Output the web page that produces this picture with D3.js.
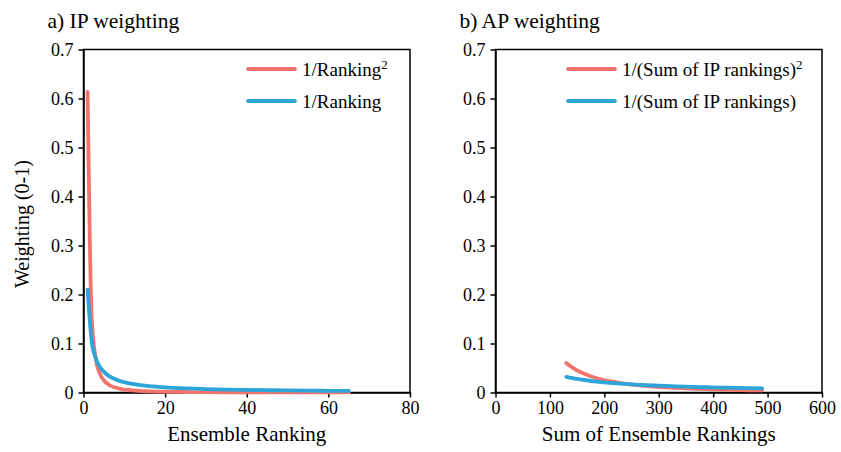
<!DOCTYPE html>
<html>
<head>
<meta charset="utf-8">
<script src="https://cdn.jsdelivr.net/npm/d3@7"></script>
<style>
  body { margin: 0; background: #fff; }
  text { font-family: "Liberation Serif", "Times New Roman", serif; fill: #000; }
  .axis path, .axis line { stroke: #000; stroke-width: 1.5px; }
  .axis text { font-size: 18px; font-family: "Liberation Serif", "Times New Roman", serif; }
</style>
</head>
<body>
<div id="chart"></div>
<script>
// panel a: ensemble ranking vs weight
var ranks = [1,2,3,4,5,6,7,8,9,10,11,12,13,14,15,16,17,18,19,20,25,30,35,40,45,50,55,60,65];
var ipSquared = [0.6136,0.1534,0.0682,0.0384,0.0245,0.0170,0.0125,0.0096,0.0076,0.0061,0.0051,0.0043,0.0036,0.0031,0.0027,0.0024,0.0021,0.0019,0.0017,0.0015,0.0010,0.0007,0.0005,0.0004,0.0003,0.00025,0.0002,0.00017,0.00015];
var ipLinear = [0.2101,0.1051,0.0700,0.0525,0.0420,0.0350,0.0300,0.0263,0.0233,0.0210,0.0191,0.0175,0.0162,0.0150,0.0140,0.0131,0.0124,0.0117,0.0111,0.0105,0.0084,0.0070,0.0060,0.0053,0.0047,0.0042,0.0038,0.0035,0.0032];

// panel b: sum of rankings vs weight
var sums = [130,150,170,190,210,230,250,270,290,310,330,350,370,390,410,430,450,470,490];
var apSquared = [0.0600,0.0451,0.0351,0.0281,0.0230,0.0192,0.0162,0.0139,0.0121,0.0106,0.0093,0.0083,0.0074,0.0067,0.0060,0.0055,0.0050,0.0046,0.0042];
var apLinear = [0.0320,0.0277,0.0245,0.0219,0.0198,0.0181,0.0166,0.0154,0.0143,0.0134,0.0126,0.0119,0.0112,0.0107,0.0101,0.0097,0.0092,0.0089,0.0085];

var yTicks = [0,0.1,0.2,0.3,0.4,0.5,0.6,0.7];
var xTicksA = [0,20,40,60,80];
var xTicksB = [0,100,200,300,400,500,600];

var red = "#F3746C", blue = "#2EA5D8";

var svg = d3.select("#chart").append("svg")
  .attr("width", 841).attr("height", 452);

var plotTop = 49.5, plotBottom = 392.5;

var y = d3.scaleLinear().domain([0, 0.7]).range([plotBottom, plotTop]);

function panel(left, right, xMax, xTicks, xs, s1, s2, title, xLabel, leg1, leg1sup, leg2, legX) {
  var x = d3.scaleLinear().domain([0, xMax]).range([left, right]);
  var g = svg.append("g");

  // frame
  g.append("rect")
    .attr("x", left).attr("y", plotTop)
    .attr("width", right - left).attr("height", plotBottom - plotTop)
    .attr("fill", "none").attr("stroke", "#000").attr("stroke-width", 1.5);

  g.append("g").attr("class", "axis")
    .attr("transform", "translate(0," + plotBottom + ")")
    .call(d3.axisBottom(x).tickValues(xTicks).tickSize(5).tickSizeOuter(0).tickPadding(4).tickFormat(d3.format("d")));

  g.append("g").attr("class", "axis")
    .attr("transform", "translate(" + left + ",0)")
    .call(d3.axisLeft(y).tickValues(yTicks).tickSize(5).tickSizeOuter(0).tickPadding(5).tickFormat(d3.format("~g")));

  var line = function (vals) {
    return d3.line()
      .x(function (d, i) { return x(xs[i]); })
      .y(function (d) { return y(d); })
      .curve(d3.curveMonotoneX)(vals);
  };

  g.append("path").attr("d", line(s1))
    .attr("fill", "none").attr("stroke", red).attr("stroke-width", 3.8).attr("stroke-linecap", "round");
  g.append("path").attr("d", line(s2))
    .attr("fill", "none").attr("stroke", blue).attr("stroke-width", 3.8).attr("stroke-linecap", "round");

  // title
  g.append("text").attr("x", left - 36).attr("y", 28)
    .style("font-size", "21.5px").text(title);

  // x label
  g.append("text").attr("x", (left + right) / 2).attr("y", 441)
    .attr("text-anchor", "middle").style("font-size", "21px").text(xLabel);

  // legend
  g.append("line").attr("x1", legX).attr("x2", legX + 47).attr("y1", 69).attr("y2", 69)
    .attr("stroke", red).attr("stroke-width", 3.8).attr("stroke-linecap", "round");
  var t1 = g.append("text").attr("x", legX + 54).attr("y", 76).style("font-size", "19px").text(leg1);
  t1.append("tspan").attr("dy", -7).style("font-size", "13px").text(leg1sup);
  g.append("line").attr("x1", legX).attr("x2", legX + 47).attr("y1", 101).attr("y2", 101)
    .attr("stroke", blue).attr("stroke-width", 3.8).attr("stroke-linecap", "round");
  g.append("text").attr("x", legX + 54).attr("y", 108).style("font-size", "19px").text(leg2);
}

panel(83.5, 410, 80, xTicksA, ranks, ipSquared, ipLinear,
  "a) IP weighting", "Ensemble Ranking", "1/Ranking", "2", "1/Ranking", 248);
panel(495.5, 822, 600, xTicksB, sums, apSquared, apLinear,
  "b) AP weighting", "Sum of Ensemble Rankings", "1/(Sum of IP rankings)", "2", "1/(Sum of IP rankings)", 568);

// y label
svg.append("text")
  .attr("transform", "translate(29,224) rotate(-90)")
  .attr("text-anchor", "middle").style("font-size", "20px")
  .text("Weighting (0-1)");
</script>
</body>
</html>
